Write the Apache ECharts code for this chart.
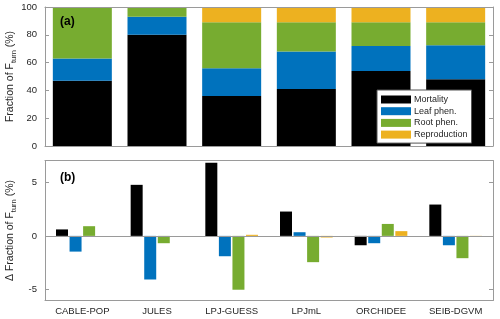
<!DOCTYPE html>
<html>
<head>
<meta charset="utf-8">
<script src="https://cdn.jsdelivr.net/npm/echarts@6/dist/echarts.min.js"></script>
<style>html,body{margin:0;padding:0;background:#fff}#c{width:500px;height:319px}</style>
</head>
<body>
<div id="c"></div>
<script>
var categories = ['CABLE-POP', 'JULES', 'LPJ-GUESS', 'LPJmL', 'ORCHIDEE', 'SEIB-DGVM'];
var seriesNames = ['Mortality', 'Leaf phen.', 'Root phen.', 'Reproduction'];
// (a) fraction of F_turn (%), stacked
var fracMortality    = [47, 80, 36, 41, 54, 48];
var fracLeaf         = [16, 13, 20, 27, 18, 24.5];
var fracRoot         = [37, 7, 33, 21, 17, 16.5];
var fracReproduction = [0, 0, 11, 11, 11, 11];
// (b) change in fraction of F_turn (%)
var dMortality    = [0.6, 4.74, 6.78, 2.26, -0.87, 2.91];
var dLeaf         = [-1.46, -4.05, -1.89, 0.34, -0.68, -0.87];
var dRoot         = [0.9, -0.68, -5.0, -2.44, 1.11, -2.07];
var dReproduction = [0, 0, 0.1, -0.15, 0.44, -0.05];
var topTicks = [0, 20, 40, 60, 80, 100];
var bottomTicks = [-5, 0, 5];

var colors = ['#000000', '#0072BD', '#77AC30', '#EDB120'];
var FONT = 'Liberation Sans, Arial, Helvetica, sans-serif';
var TXT = '#262626';
var AX = '#9a9a9a';

var chart = echarts.init(document.getElementById('c'), null, {renderer: 'canvas'});

function catAxis(grid, pos, labels) {
  return {
    type: 'category', gridIndex: grid, position: pos, data: categories, z: 10,
    axisLine: {onZero: false, lineStyle: {color: AX, width: 1}},
    axisTick: {inside: true, alignWithLabel: true, length: 4, lineStyle: {color: AX}},
    axisLabel: {show: labels, color: TXT, fontSize: 9.5, fontFamily: FONT, margin: 6},
    splitLine: {show: false}
  };
}
function nameRich() {
  return {
    a: {fontSize: 10.5, color: TXT, fontFamily: FONT},
    s: {fontSize: 7.5, color: TXT, fontFamily: FONT, padding: [7, 0, 0, 0]}
  };
}

var option = {
  animation: false,
  backgroundColor: '#fff',
  color: colors,
  grid: [
    {left: 45, right: 7, top: 7, height: 139, containLabel: false, outerBoundsMode: 'none'},
    {left: 45, right: 7, top: 160.5, height: 140, containLabel: false, outerBoundsMode: 'none'}
  ],
  xAxis: [catAxis(0, 'bottom', false), catAxis(0, 'top', false), catAxis(1, 'bottom', true), catAxis(1, 'top', false)],
  yAxis: [
    {type: 'value', gridIndex: 0, position: 'left', min: topTicks[0], max: topTicks[topTicks.length - 1], interval: 20, z: 10,
     axisLine: {show: true, lineStyle: {color: AX}},
     axisTick: {show: true, inside: true, length: 4, lineStyle: {color: AX}},
     axisLabel: {color: TXT, fontSize: 9.5, fontFamily: FONT, margin: 8},
     splitLine: {show: false},
     name: '{a|Fraction of F}{s|turn}{a| (%)}', nameLocation: 'middle', nameRotate: 90, nameGap: 27,
     nameMoveOverlap: false,
     nameTextStyle: {rich: nameRich()}},
    {type: 'value', gridIndex: 0, position: 'right', min: 0, max: 100, interval: 20, z: 10,
     axisLine: {show: true, lineStyle: {color: AX}},
     axisTick: {show: true, inside: true, length: 4, lineStyle: {color: AX}},
     axisLabel: {show: false}, splitLine: {show: false}},
    {type: 'value', gridIndex: 1, position: 'left', min: -6, max: 7, z: 10,
     axisLine: {show: true, lineStyle: {color: AX}},
     axisTick: {show: true, inside: true, length: 4, customValues: bottomTicks, lineStyle: {color: AX}},
     axisLabel: {color: TXT, fontSize: 9.5, fontFamily: FONT, margin: 8, customValues: bottomTicks},
     splitLine: {show: false},
     name: '{a|\u0394 Fraction of F}{s|turn}{a| (%)}', nameLocation: 'middle', nameRotate: 90, nameGap: 27,
     nameMoveOverlap: false,
     nameTextStyle: {rich: nameRich()}},
    {type: 'value', gridIndex: 1, position: 'right', min: -6, max: 7, z: 10,
     axisLine: {show: true, lineStyle: {color: AX}},
     axisTick: {show: true, inside: true, length: 4, customValues: bottomTicks, lineStyle: {color: AX}},
     axisLabel: {show: false, customValues: bottomTicks}, splitLine: {show: false}}
  ],
  legend: {
    data: seriesNames, orient: 'vertical', left: 377, top: 90, z: 20,
    itemWidth: 30, itemHeight: 8, itemGap: 2.7, icon: 'rect',
    padding: [5, 4, 4, 4],
    backgroundColor: '#fff', borderColor: '#555', borderWidth: 1,
    textStyle: {fontSize: 9, color: TXT, fontFamily: FONT, padding: [0, 0, 0, -2]}
  },
  graphic: [
    {type: 'text', left: 60, top: 16, z: 100, style: {text: '(a)', font: 'bold 12px ' + FONT, fill: '#000'}},
    {type: 'text', left: 60, top: 172, z: 100, style: {text: '(b)', font: 'bold 12px ' + FONT, fill: '#000'}}
  ],
  series: []
};

var topData = [fracMortality, fracLeaf, fracRoot, fracReproduction];
var botData = [dMortality, dLeaf, dRoot, dReproduction];
for (var i = 0; i < 4; i++) {
  option.series.push({
    type: 'bar', name: seriesNames[i], xAxisIndex: 0, yAxisIndex: 0, stack: 'frac',
    barWidth: 59, data: topData[i], itemStyle: {color: colors[i]}
  });
}
for (var j = 0; j < 4; j++) {
  var s = {
    type: 'bar', name: seriesNames[j], xAxisIndex: 2, yAxisIndex: 2,
    barWidth: 12, barGap: '13%', data: botData[j], itemStyle: {color: colors[j]}
  };
  if (j === 0) {
    s.markLine = {silent: true, symbol: 'none', label: {show: false},
      lineStyle: {color: AX, type: 'solid', width: 1}, data: [{yAxis: 0}]};
  }
  option.series.push(s);
}
chart.setOption(option);
</script>
</body>
</html>
